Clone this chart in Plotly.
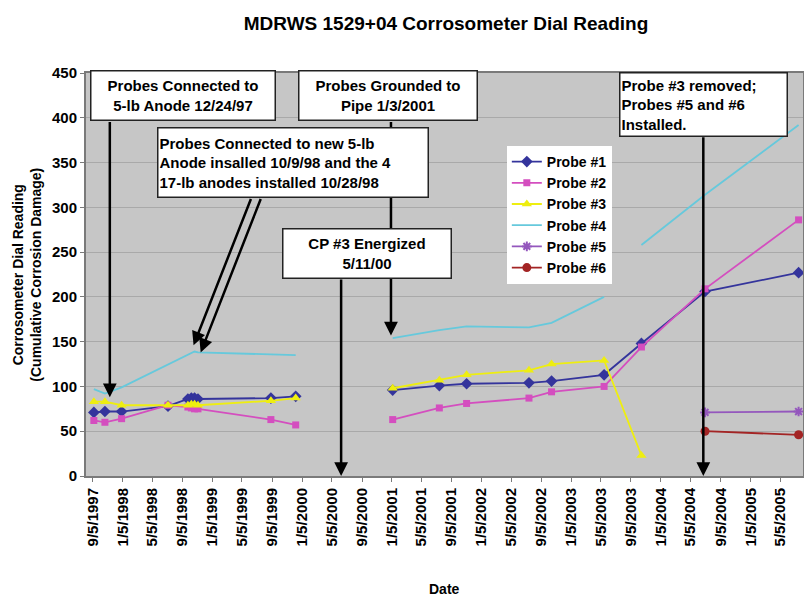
"""
Corrosometer dial readings for MDRWS 1529+04, redrawn with Plotly
"""
import pandas as pd
import plotly.graph_objs as go

FONT = "Liberation Sans, Arial, sans-serif"

# sample dates shared by probes 1, 2, 3, 5 and 6 (the 2000 row is a gap)
dates = [
    "1997-09-09", "1997-10-24", "1997-12-31", "1998-07-08", "1998-09-27",
    "1998-10-11", "1998-10-24", "1998-11-07", "1999-08-31", "1999-12-10",
    "2000-06-01", "2001-01-08", "2001-07-17", "2001-11-05", "2002-07-17",
    "2002-10-17", "2003-05-19", "2003-10-18", "2004-07-03", "2005-07-19",
]
probe1 = [71, 72, 72, 78, 86, 87, 87, 86, 87, 89,
          None, 96, 101, 103, 104, 106, 113, 148, 206, 227]
probe2 = [62, 60, 64, 79, 77, 76, 75, 75, 63, 57,
          None, 63, 76, 81, 87, 94, 100, 144, 209, 286]
probe3 = [83, 83, 79, 79, 79, 80, 80, 79, 84, 87,
          None, 98, 107, 113, 118, 125, 129, 23, None, None]
probe5 = [None] * 18 + [71, 72]
probe6 = [None] * 18 + [50, 46]

# probe 4 has its own gaps
probe4_dates = [
    "1997-09-09", "1997-10-24", "1997-12-31", "1998-07-08", "1998-09-27",
    "1998-10-11", "1998-10-24", "1998-11-07", "1999-08-31", "1999-12-10",
    "2000-06-01", "2001-01-08", "2001-07-17", "2001-11-05", "2002-07-17",
    "2002-10-17", "2003-05-19", "2003-08-01", "2003-10-18", "2004-07-03",
    "2005-07-19",
]
probe4 = [97, 92, 99, 124, 135, 137, 139, 138, 136, 135,
          None, 154, 163, 167, 166, 171, 200, None, 258, 314, 392]

tick_labels = [
    "9/5/1997", "1/5/1998", "5/5/1998", "9/5/1998", "1/5/1999", "5/5/1999",
    "9/5/1999", "1/5/2000", "5/5/2000", "9/5/2000", "1/5/2001", "5/5/2001",
    "9/5/2001", "1/5/2002", "5/5/2002", "9/5/2002", "1/5/2003", "5/5/2003",
    "9/5/2003", "1/5/2004", "5/5/2004", "9/5/2004", "1/5/2005", "5/5/2005",
]
tick_dates = pd.to_datetime(tick_labels, format="%m/%d/%Y")

series = [
    ("Probe #1", dates, probe1, "#34349c", "diamond", 9),
    ("Probe #2", dates, probe2, "#d44ebf", "square", 7),
    ("Probe #3", dates, probe3, "#eeee10", "triangle-up", 9),
    ("Probe #4", probe4_dates, probe4, "#66c9dc", None, 0),
    ("Probe #5", dates, probe5, "#9457bd", "asterisk-open", 8),
    ("Probe #6", dates, probe6, "#a32424", "circle", 9),
]

traces = []
for name, xs, ys, color, symbol, size in series:
    if symbol is None:
        mode = "lines"
        marker = dict()
    else:
        mode = "lines+markers"
        marker = dict(symbol=symbol, size=size, color=color,
                      line=dict(width=2 if "open" in symbol else 0, color=color))
    traces.append(go.Scatter(
        x=xs, y=ys, name=name, mode=mode,
        line=dict(color=color, width=1.8),
        marker=marker,
        connectgaps=False,
    ))

# arrows: (tail date, tail value, tip date, tip value)
arrows = [
    ("1997-11-13", 397, "1997-11-13", 88),
    ("1999-06-13", 311, "1998-10-20", 146),
    ("1999-07-23", 311, "1998-11-18", 138),
    ("2001-01-01", 397, "2001-01-01", 157),
    ("2000-06-12", 221, "2000-06-12", 0),
    ("2004-06-26", 380, "2004-06-26", 0),
]

# page pixel layout (the page body adds an 8px margin)
PAGE_W, PAGE_H, BODY = 812, 599, 8
PLOT_L, PLOT_R, PLOT_T, PLOT_B = 86, 805, 73, 476

# text boxes: (text, left px, top px, width, height, align)
boxes = [
    ("Probes Connected to<br>5-lb Anode 12/24/97", 90, 70, 181, 46, "center"),
    ("Probes Connected to new 5-lb<br>Anode insalled 10/9/98 and the 4<br>"
     "17-lb anodes installed 10/28/98", 157, 127, 267, 66, "left"),
    ("Probes Grounded to<br>Pipe 1/3/2001", 299, 70, 175, 46, "center"),
    ("CP #3 Energized<br>5/11/00", 283, 228, 165, 46, "center"),
    ("Probe #3 removed;<br>Probes #5 and #6<br>Installed.", 620, 72, 164, 60, "left"),
]

annotations = []
for tx, ty, hx, hy in arrows:
    annotations.append(dict(
        x=hx, y=hy, xref="x", yref="y", ax=tx, ay=ty, axref="x", ayref="y",
        text="", showarrow=True, arrowhead=2, arrowsize=1.1, arrowwidth=2.5,
        arrowcolor="black", standoff=0,
    ))

pw = PLOT_R - PLOT_L
ph = PLOT_B - PLOT_T
for text, left, top, w, h, align in boxes:
    annotations.append(dict(
        x=(left - PLOT_L) / pw, y=(PLOT_B - top) / ph, xref="paper", yref="paper",
        xanchor="left", yanchor="top", text=text, showarrow=False,
        width=w, height=h, align=align, valign="middle",
        bgcolor="white", bordercolor="#222222", borderwidth=1.5, borderpad=1,
        font=dict(family=FONT, size=15, color="black", weight="bold"),
    ))

annotations.append(dict(
    x=(26 - PLOT_L) / pw, y=0.5, xref="paper", yref="paper",
    text="Corrosometer Dial Reading<br>(Cumulative Corrosion Damage)",
    textangle=-90, showarrow=False, xanchor="center", yanchor="middle",
    font=dict(family=FONT, size=14, color="black", weight="bold"),
))
annotations.append(dict(
    x=(446 - PLOT_L) / pw, y=(PLOT_B - 589) / ph, xref="paper", yref="paper",
    text="Date", showarrow=False, xanchor="center", yanchor="middle",
    font=dict(family=FONT, size=14, color="black", weight="bold"),
))

fig_w = PAGE_W - BODY
fig_h = PAGE_H - BODY

layout = go.Layout(
    width=fig_w, height=fig_h,
    margin=dict(l=PLOT_L - BODY, r=PAGE_W - PLOT_R, t=PLOT_T - BODY, b=PAGE_H - PLOT_B),
    paper_bgcolor="white",
    plot_bgcolor="#c6c6c6",
    title=dict(text="MDRWS 1529+04 Corrosometer Dial Reading",
               x=(446 - BODY) / fig_w, xanchor="center",
               y=1 - (23 - BODY) / fig_h, yanchor="middle",
               font=dict(family=FONT, size=19, color="black", weight="bold")),
    xaxis=dict(
        type="date", range=["1997-08-08", "2005-08-06"],
        tickvals=tick_dates, ticktext=tick_labels, tickangle=-90,
        tickfont=dict(family=FONT, size=15, color="black", weight="bold"),
        showgrid=False, showline=True, linecolor="#7a7a7a", linewidth=2,
        mirror=True, ticks="outside", ticklen=4, tickcolor="#7a7a7a",
        zeroline=False,
    ),
    yaxis=dict(
        range=[0, 450], dtick=50,
        tickfont=dict(family=FONT, size=15, color="black", weight="bold"),
        showgrid=True, gridcolor="#a9a9a9", gridwidth=1,
        showline=True, linecolor="#7a7a7a", linewidth=2, mirror=True,
        ticks="outside", ticklen=4, tickcolor="#7a7a7a", zeroline=False,
    ),
    legend=dict(
        x=(508 - PLOT_L) / pw, y=(PLOT_B - 146) / ph, xanchor="left", yanchor="top",
        bgcolor="white", borderwidth=0,
        font=dict(family=FONT, size=14, color="black", weight="bold"),
        tracegroupgap=0, itemwidth=30,
    ),
    showlegend=True,
    annotations=annotations,
)

fig = go.Figure(data=traces, layout=layout)
fig.write_html("out.html")
